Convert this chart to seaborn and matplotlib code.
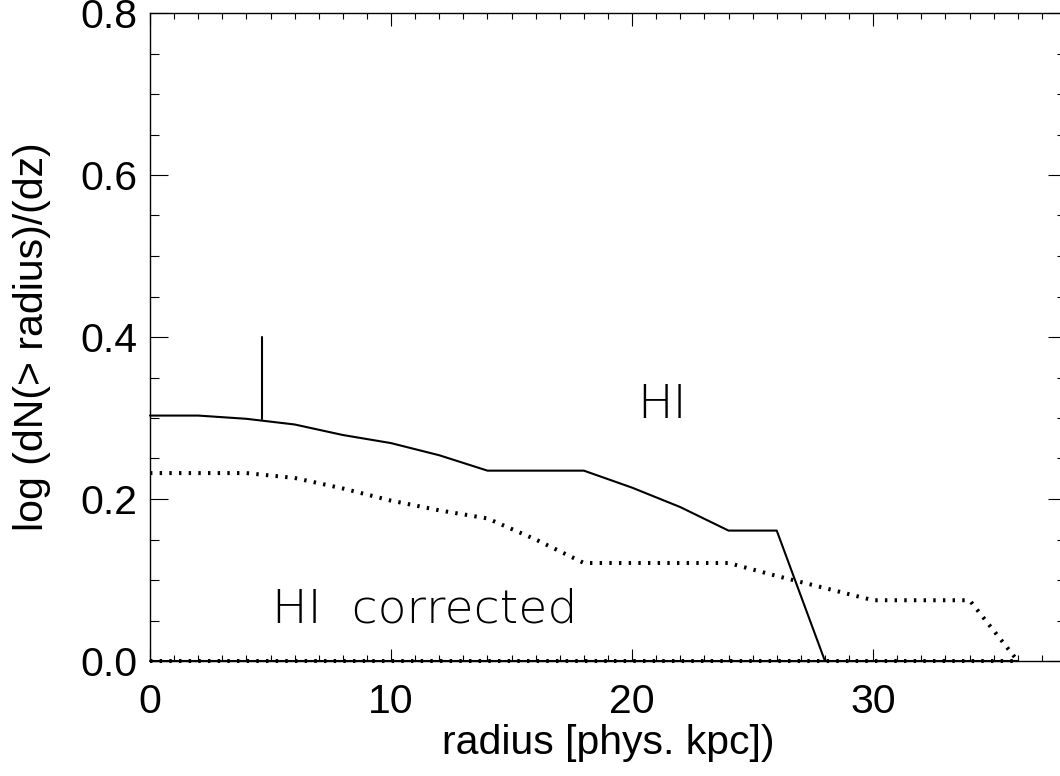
import matplotlib
matplotlib.use("Agg")
import matplotlib.pyplot as plt
from matplotlib.ticker import MultipleLocator, FormatStrFormatter
import seaborn as sns

# radius [phys. kpc] and log dN(>r)/dz for the raw HI sample
radius = [0, 2, 4, 6, 8, 10, 12, 14, 16, 18, 20, 22, 24, 26, 28]
hi = [0.303, 0.303, 0.299, 0.292, 0.279, 0.269, 0.254, 0.235, 0.235, 0.235,
      0.214, 0.190, 0.161, 0.161, 0.0]
# corrected HI
radius_corr = [0, 2, 4, 6, 8, 10, 12, 14, 16, 18, 20, 22, 24, 26, 28, 30, 32, 34, 36]
hi_corr = [0.232, 0.232, 0.232, 0.226, 0.213, 0.198, 0.186, 0.176, 0.150, 0.121,
           0.121, 0.121, 0.121, 0.105, 0.090, 0.075, 0.075, 0.075, 0.0]
# zero baseline drawn along the bottom
base_x = [0, 36]
base_y = [0.0, 0.0]
# vertical marker
mark_x = [4.65, 4.65]
mark_y = [0.299, 0.40]

sns.set_style("ticks")
plt.rcParams['font.family'] = ['Liberation Sans', 'DejaVu Sans']
plt.rcParams['text.color'] = 'black'
plt.rcParams['axes.labelcolor'] = 'black'
plt.rcParams['xtick.color'] = 'black'
plt.rcParams['ytick.color'] = 'black'

fig = plt.figure(figsize=(10.6, 7.76), dpi=100)
ax = fig.add_axes([150/1060, 115/776, 916/1060, 648/776])

dots = (0, (0.6, 1.8))
kw = dict(ax=ax, color='black', estimator=None, sort=False, clip_on=False)
sns.lineplot(x=radius, y=hi, lw=1.5, **kw)
sns.lineplot(x=radius_corr, y=hi_corr, lw=2.9, linestyle=dots, **kw)
sns.lineplot(x=base_x, y=base_y, lw=1.5, **kw)
sns.lineplot(x=base_x, y=base_y, lw=2.9, linestyle=dots, **kw)
sns.lineplot(x=mark_x, y=mark_y, lw=1.5, **kw)

ax.set_xlim(0, 38)
ax.set_ylim(0, 0.8)
ax.xaxis.set_major_locator(MultipleLocator(10))
ax.xaxis.set_minor_locator(MultipleLocator(1))
ax.yaxis.set_major_locator(MultipleLocator(0.2))
ax.yaxis.set_minor_locator(MultipleLocator(0.05))
ax.yaxis.set_major_formatter(FormatStrFormatter('%.1f'))

ax.tick_params(axis='both', which='both', direction='in', top=True, right=True,
               width=0.8, color='black', labelsize=29.5)
ax.tick_params(axis='x', which='major', length=9, pad=16)
ax.tick_params(axis='x', which='minor', length=4.5)
ax.tick_params(axis='y', which='major', length=13, pad=9)
ax.tick_params(axis='y', which='minor', length=6.5)
for s in ax.spines.values():
    s.set_linewidth(1.0)
    s.set_color('black')

ax.set_xlabel('radius [phys. kpc])', fontsize=29.5, labelpad=2)
ax.set_ylabel('log (dN(> radius)/(dz)', fontsize=29.5, labelpad=21)

ax.text(20.2, 0.30, 'HI', fontsize=34, family='DejaVu Sans', fontweight=200)
ax.text(5.06, 0.048, 'HI  corrected', fontsize=34, family='DejaVu Sans', fontweight=200)

fig.savefig('out.png', dpi=100)
